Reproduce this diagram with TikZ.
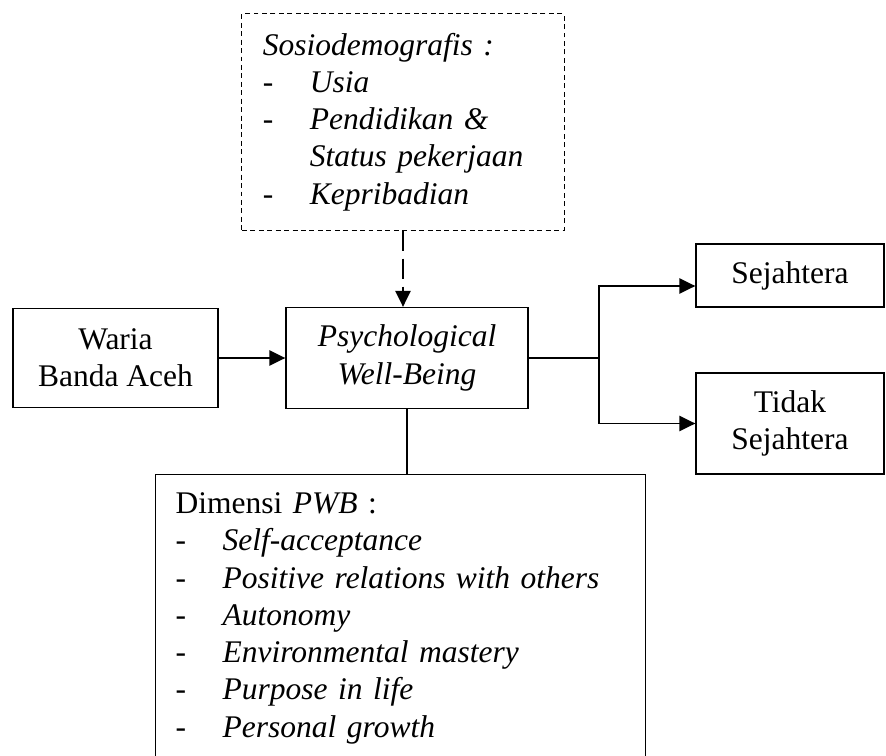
\documentclass[tikz,border=0pt]{standalone}
\usepackage{fontspec}
\setmainfont{Liberation Serif}
\usetikzlibrary{arrows.meta,calc}
\newcommand{\ditem}[1]{\makebox[1.175cm][l]{-}\textit{#1}}
\begin{document}
\begin{tikzpicture}[
  x=0.025cm, y=-0.025cm,
  box/.style={draw, line width=0.9pt, align=center, inner sep=0pt},
  dbox/.style={box, line width=0.7pt, dash pattern=on 3.5pt off 2.5pt},
  arr/.style={line width=1.4pt, -{Triangle[length=0.4cm,width=0.38cm]}},
  ln/.style={line width=0.9pt},
  every node/.style={font=\fontsize{22.4}{26.5}\selectfont}
]
\clip (0,0) rectangle (886,755);

\node[dbox, minimum width=8.05cm, minimum height=5.4cm, text width=7cm, align=left] (socio) at (403,122)
  {\textit{Sosiodemografis :}\\ \ditem{Usia}\\ \ditem{Pendidikan \&}\\
   \hspace*{1.175cm}\textit{Status pekerjaan}\\ \ditem{Kepribadian}};

\node[box, minimum width=5.125cm, minimum height=2.475cm] (waria) at (115.5,358) {Waria\\Banda Aceh};
\node[box, minimum width=6.05cm, minimum height=2.525cm] (pwb) at (407,358) {\textit{Psychological}\\\textit{Well-Being}};
\node[box, minimum width=4.7cm, minimum height=1.575cm] (sej) at (790,275.5) {Sejahtera};
\node[box, minimum width=4.7cm, minimum height=2.525cm] (tidak) at (790,423.5) {Tidak\\Sejahtera};

\node[box, anchor=north west, text width=11.25cm, inner xsep=0.5cm, inner ysep=0.45cm,
  align=left] (dims) at (155,474)
  {Dimensi \textit{PWB} :\\ \ditem{Self-acceptance}\\ \ditem{Positive relations with others}\\
   \ditem{Autonomy}\\ \ditem{Environmental mastery}\\ \ditem{Purpose in life}\\ \ditem{Personal growth}};

\coordinate (fork) at (599,358);

\draw[arr, dash pattern=on 0.5cm off 0.2cm] (socio.south) -- (socio.south |- pwb.north);
\draw[arr] (waria) -- (pwb);
\draw[ln] (pwb) -- (fork);
\draw[arr] (fork) |- ($(sej.west)+(0,10.5)$);
\draw[arr] (fork) |- (tidak.west);
\draw[ln] (pwb.south) -- (pwb.south |- dims.north);
\end{tikzpicture}
\end{document}
